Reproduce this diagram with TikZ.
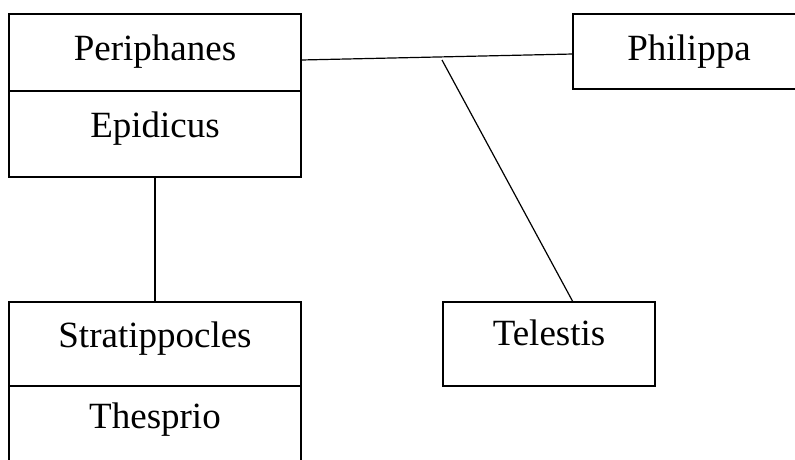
\documentclass[tikz,border=0pt]{standalone}
\usepackage{fontspec}
\setmainfont{Liberation Serif}
\begin{document}
\begin{tikzpicture}[x=1pt,y=-1pt,line width=1.2pt,
  box/.style={draw, inner sep=0pt, outer sep=0pt, anchor=north west},
  lbl/.style={anchor=base, inner sep=0pt, font=\fontsize{37}{44}\selectfont}]
\useasboundingbox (0,0) rectangle (795,459);
\clip (0,0) rectangle (795,459);
% boxes
\node[box, minimum width=292pt, minimum height=77pt] (peri) at (9,14) {};
\node[box, minimum width=292pt, minimum height=86pt] (epid) at (9,91) {};
\node[box, minimum width=232pt, minimum height=75pt] (phil) at (573,14) {};
\node[box, minimum width=292pt, minimum height=84pt] (strat) at (9,302) {};
\node[box, minimum width=292pt, minimum height=100pt] (thes) at (9,386) {};
\node[box, minimum width=212pt, minimum height=84pt] (tel) at (443,302) {};
% labels
\node[lbl] (tperi) at (155,60) {Periphanes};
\node[lbl] (tepid) at (155,137) {Epidicus};
\node[lbl] (tphil) at (689,60) {Philippa};
\node[lbl] (tstrat) at (155,347) {Stratippocles};
\node[lbl] (tthes) at (155,428) {Thesprio};
\node[lbl] (ttel) at (549,345) {Telestis};
% connectors
\draw ([yshift=-7.5pt]peri.east) -- ([yshift=-2.5pt]phil.west);
\coordinate (j) at (442,60);
\draw (j) -- ([xshift=24pt]tel.north);
\draw (epid.south) -- (strat.north);
\end{tikzpicture}
\end{document}
